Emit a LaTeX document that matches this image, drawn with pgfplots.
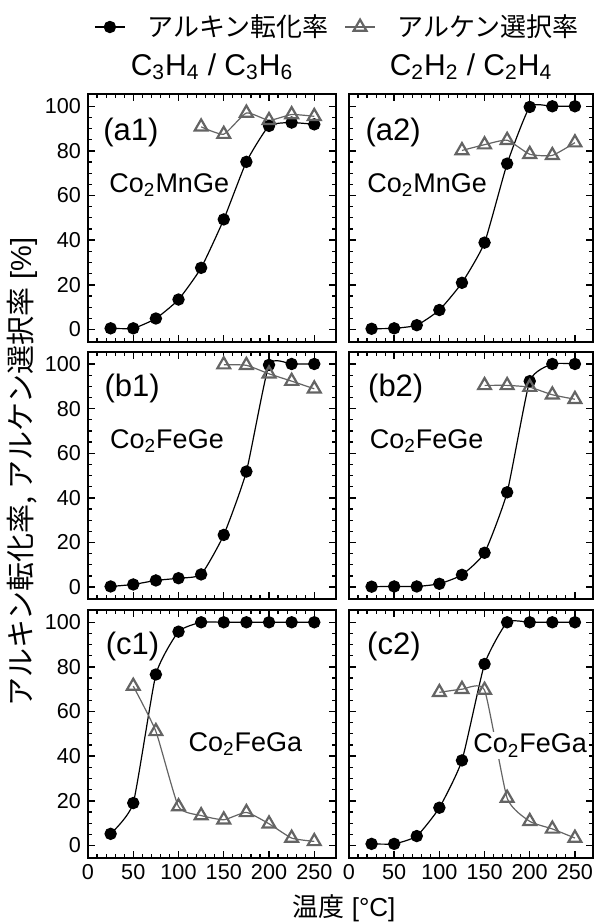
\documentclass[border=0pt]{standalone}
\usepackage{fontspec}
\setmainfont{Liberation Sans}
\newfontfamily\jp{Noto Sans CJK JP}
\usepackage{pgfplots}
\pgfplotsset{compat=1.18}
\definecolor{trigray}{RGB}{100,100,100}
\newcommand\sub[1]{\raisebox{-0.3em}{\fontsize{0.7\dimexpr\fontdimen6\font\relax}{1em}\selectfont #1}}
\tikzset{
  lab/.style={font=\fontsize{15.5}{17}\selectfont, anchor=base west, inner sep=0pt},
  cmp/.style={font=\fontsize{13.5}{16}\selectfont, anchor=base west, inner sep=0pt},
  ttl/.style={font=\fontsize{15}{17}\selectfont, anchor=base, yshift=9.5pt},
}
\pgfplotsset{
  panel/.style={
    scale only axis, height=123.85pt, clip=false,
    xmin=0, ymin=-5.5, ymax=105.5,
    xtick={0,50,...,250}, minor x tick num=4,
    ytick={0,20,...,100}, minor y tick num=3,
    tick align=inside, tick pos=both,
    major tick length=3.5pt, minor tick length=2pt,
    major tick style={line width=0.7pt, black},
    minor tick style={line width=0.6pt, black},
    axis line style={line width=1pt},
    /pgf/number format/assume math mode=true,
    ticklabel style={font=\fontsize{10.8}{12}\selectfont},
    legend image code/.code={\draw[mark repeat=2,mark phase=2,##1] plot coordinates {(0pt,0pt) (7.5pt,0pt) (15pt,0pt)};},
  },
  leftp/.style={panel, width=124pt, xmax=274},
  rightp/.style={panel, width=122pt, xmax=270, yticklabels={}},
  conv/.style={black, line width=0.6pt, mark=*, mark size=2.8pt, mark options={solid, fill=black}, smooth, tension=0.3},
  sel/.style={trigray, line width=0.6pt, mark=triangle, mark size=3.7pt, mark options={solid, line width=1.1pt}, smooth, tension=0.3},
}
\begin{document}
\begin{tikzpicture}
\useasboundingbox (0pt,0pt) rectangle (298pt,-461.5pt);

% (a1)
\begin{axis}[leftp, at={(44pt,-47pt)}, anchor=north west, xticklabels={},
  legend columns=2,
  legend style={at={(1.01,1.2705)}, anchor=center, draw=none, fill=none, inner sep=0pt,
    font=\jp\fontsize{13}{14}\selectfont, legend cell align=left,
    /tikz/every odd column/.append style={column sep=9pt},
    /tikz/every even column/.append style={column sep=6pt}}]
\addplot[conv] coordinates {(25,0.5)(50,0.5)(75,4.9)(100,13.4)(125,27.6)(150,49.3)(175,75.1)(200,91.2)(225,92.7)(250,91.9)};
\addlegendentry{アルキン転化率}
\addplot[sel] coordinates {(125,90.8)(150,87.5)(175,97)(200,93.7)(225,96.3)(250,95.5)};
\addlegendentry{アルケン選択率}
\node[lab] at (axis description cs:0.06,0.812) {(a1)};
\node[cmp] at (axis description cs:0.085,0.604) {Co\textsubscript{2}MnGe};
\node[ttl] at (axis description cs:0.5,1.0) {C\textsubscript{3}H\textsubscript{4} / C\textsubscript{3}H\textsubscript{6}};
\end{axis}

% (a2)
\begin{axis}[rightp, at={(174.5pt,-47pt)}, anchor=north west, xticklabels={}]
\addplot[conv] coordinates {(25,0.3)(50,0.5)(75,1.9)(100,8.7)(125,20.9)(150,38.9)(175,74.3)(200,99.7)(225,100)(250,100)};
\addplot[sel] coordinates {(125,80.2)(150,82.8)(175,84.8)(200,78.5)(225,78)(250,83.7)};
\node[lab] at (axis description cs:0.066,0.812) {(a2)};
\node[cmp] at (axis description cs:0.074,0.604) {Co\textsubscript{2}MnGe};
\node[ttl] at (axis description cs:0.5,1.0) {C\textsubscript{2}H\textsubscript{2} / C\textsubscript{2}H\textsubscript{4}};
\end{axis}

% (b1)
\begin{axis}[leftp, at={(44pt,-175.85pt)}, anchor=north west, xticklabels={}]
\addplot[conv] coordinates {(25,0.3)(50,1.2)(75,3)(100,4)(125,5.7)(150,23.4)(175,51.8)(200,99.6)(225,100)(250,100)};
\addplot[sel] coordinates {(150,99.7)(175,99.4)(200,95.6)(225,92.3)(250,88.9)};
\node[lab] at (axis description cs:0.065,0.818) {(b1)};
\node[cmp] at (axis description cs:0.088,0.611) {Co\textsubscript{2}FeGe};
\end{axis}

% (b2)
\begin{axis}[rightp, at={(174.5pt,-175.85pt)}, anchor=north west, xticklabels={}]
\addplot[conv] coordinates {(25,0.2)(50,0.3)(75,0.3)(100,1.5)(125,5.5)(150,15.4)(175,42.5)(200,92.3)(225,100)(250,100)};
\addplot[sel] coordinates {(150,90.4)(175,90.4)(200,89.6)(225,86.2)(250,84.2)};
\node[lab] at (axis description cs:0.077,0.818) {(b2)};
\node[cmp] at (axis description cs:0.084,0.611) {Co\textsubscript{2}FeGe};
\end{axis}

% (c1)
\begin{axis}[leftp, at={(44pt,-305pt)}, anchor=north west]
\addplot[conv] coordinates {(25,5.2)(50,19)(75,76.6)(100,95.8)(125,100)(150,100)(175,100)(200,100)(225,100)(250,100)};
\addplot[sel] coordinates {(50,71.4)(75,51.1)(100,17.4)(125,13.4)(150,11.5)(175,14.8)(200,9.7)(225,3.3)(250,1.8)};
\node[lab] at (axis description cs:0.07,0.822) {(c1)};
\node[cmp] at (axis description cs:0.404,0.43) {Co\textsubscript{2}FeGa};
\end{axis}

% (c2)
\begin{axis}[rightp, at={(174.5pt,-305pt)}, anchor=north west]
\addplot[conv] coordinates {(25,0.7)(50,0.7)(75,4.2)(100,16.9)(125,38.1)(150,81.3)(175,100)(200,100)(225,100)(250,100)};
\addplot[sel] coordinates {(100,68.6)(125,70)(150,69.6)(175,21.2)(200,10.8)(225,7.4)(250,3.3)};
\node[lab] at (axis description cs:0.073,0.822) {(c2)};
\node[cmp, fill=white, inner sep=1pt] at (axis description cs:0.5,0.424) {Co\textsubscript{2}FeGa};
\end{axis}

\node[rotate=90, font=\fontsize{14.5}{16}\selectfont] at (11pt,-236pt) {{\jp アルキン転化率, アルケン選択率} [\%]};
\node[font=\fontsize{13}{15}\selectfont] at (172pt,-454pt) {{\jp 温度} [°C]};
\end{tikzpicture}
\end{document}
